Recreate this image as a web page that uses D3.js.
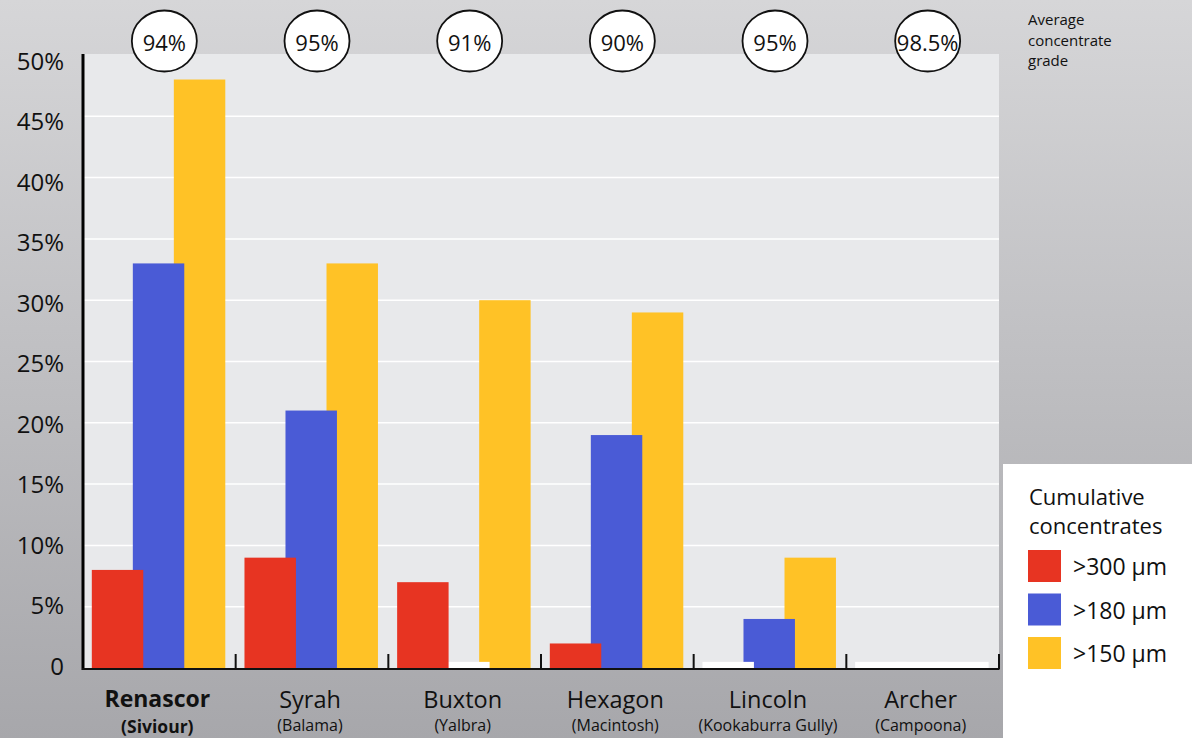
<!DOCTYPE html>
<html>
<head>
<meta charset="utf-8">
<script src="https://cdn.jsdelivr.net/npm/d3@7/dist/d3.min.js"></script>
<style>
  html, body { margin: 0; padding: 0; background: #c0c0c4; }
  svg { display: block; font-family: "Open Sans", "Noto Sans", sans-serif; }
</style>
</head>
<body>
<svg id="chart" width="1192" height="738"></svg>
<script>
// ---- data ----
const categories = ["Renascor", "Syrah", "Buxton", "Hexagon", "Lincoln", "Archer"];
const subLabels = ["(Siviour)", "(Balama)", "(Yalbra)", "(Macintosh)", "(Kookaburra Gully)", "(Campoona)"];
const grades = ["94%", "95%", "91%", "90%", "95%", "98.5%"];
const seriesNames = [">300 µm", ">180 µm", ">150 µm"];
const over300 = [8, 9, 7, 2, 0, 0];
const over180 = [33, 21, 0, 19, 4, 0];
const over150 = [48, 33, 30, 29, 9, 0];
const yTicks = [0, 5, 10, 15, 20, 25, 30, 35, 40, 45, 50];
const colors = ["#e73422", "#4a5bd6", "#ffc226"];

const seriesValues = [over300, over180, over150];

const svg = d3.select("#chart");
const W = 1192, H = 738;

// background gradient
const defs = svg.append("defs");
const grad = defs.append("linearGradient").attr("id", "bg").attr("x1", 0).attr("y1", 0).attr("x2", 0).attr("y2", 1);
grad.append("stop").attr("offset", "0%").attr("stop-color", "#d6d6d8");
grad.append("stop").attr("offset", "100%").attr("stop-color", "#a7a7ab");
svg.append("rect").attr("width", W).attr("height", H).attr("fill", "url(#bg)");

// scales
const x = d3.scaleBand().domain(categories).range([83, 999]).padding(0);
const bw = x.bandwidth();
const xs = d3.scalePoint().domain(seriesNames).range([bw * 0.0577, bw * 0.595]);
const barW = bw * 0.337;
const y = d3.scaleLinear().domain([0, 50]).range([668, 55]);
const yLabel = d3.scaleLinear().domain([0, 50]).range([665, 60]);

// plot area
svg.append("rect").attr("x", 84).attr("y", 54).attr("width", 999 - 84).attr("height", 668 - 54).attr("fill", "#e8e9eb");

// gridlines
svg.append("g").selectAll("line").data(yTicks.filter(d => d > 0 && d < 50)).join("line")
  .attr("x1", 84).attr("x2", 999)
  .attr("y1", d => y(d)).attr("y2", d => y(d))
  .attr("stroke", "#ffffff").attr("stroke-width", 1.5);

// bars: draw in reverse order so red is on top
const barData = [];
categories.forEach((c, ci) => {
  for (let si = seriesNames.length - 1; si >= 0; si--) {
    barData.push({ cat: c, s: seriesNames[si], si: si, v: seriesValues[si][ci] });
  }
});
svg.append("g").selectAll("rect").data(barData).join("rect")
  .attr("x", d => x(d.cat) + xs(d.s))
  .attr("width", barW)
  .attr("y", d => d.v === 0 ? y(0.5) : y(d.v))
  .attr("height", d => d.v === 0 ? y(0) - y(0.5) : y(0) - y(d.v))
  .attr("fill", d => d.v === 0 ? "#ffffff" : colors[d.si]);

// axes lines
svg.append("line").attr("x1", 83).attr("x2", 83).attr("y1", 54).attr("y2", 670)
  .attr("stroke", "#000").attr("stroke-width", 3);
svg.append("line").attr("x1", 82).attr("x2", 999.5).attr("y1", 669).attr("y2", 669)
  .attr("stroke", "#111").attr("stroke-width", 2);

// category boundary ticks
svg.append("g").selectAll("line").data(categories).join("line")
  .attr("x1", d => x(d) + bw).attr("x2", d => x(d) + bw)
  .attr("y1", 654).attr("y2", 669)
  .attr("stroke", "#111").attr("stroke-width", 2);

// y tick labels
svg.append("g").selectAll("text").data(yTicks).join("text")
  .attr("x", 64).attr("y", d => yLabel(d))
  .attr("text-anchor", "end").attr("dominant-baseline", "central")
  .attr("font-size", 24).attr("fill", "#111")
  .text(d => d === 0 ? "0" : d + "%");

// x labels
const xl = svg.append("g");
xl.selectAll("text.main").data(categories).join("text").attr("class", "main")
  .attr("x", d => x(d) + bw / 2 - 2).attr("y", (d, i) => i === 0 ? 707 : 708)
  .attr("text-anchor", "middle").attr("fill", "#111")
  .attr("font-size", (d, i) => i === 0 ? 23 : 23.5)
  .attr("font-weight", (d, i) => i === 0 ? 700 : 400)
  .text(d => d);
xl.selectAll("text.sub").data(categories).join("text").attr("class", "sub")
  .attr("x", d => x(d) + bw / 2 - 2).attr("y", (d, i) => i === 0 ? 732.5 : 731)
  .attr("text-anchor", "middle").attr("fill", "#111")
  .attr("font-size", (d, i) => i === 0 ? 17.5 : 16)
  .attr("font-weight", (d, i) => i === 0 ? 700 : 400)
  .text((d, i) => subLabels[i]);

// grade circles
const gc = svg.append("g").selectAll("g").data(categories).join("g")
  .attr("transform", d => `translate(${x(d) + bw / 2 + 5},41)`);
gc.append("ellipse").attr("rx", 32.5).attr("ry", 30.5)
  .attr("fill", "#fff").attr("stroke", "#111").attr("stroke-width", 1.8);
gc.append("text").attr("text-anchor", "middle").attr("dominant-baseline", "central")
  .attr("y", 1).attr("font-size", 22).attr("fill", "#111")
  .text((d, i) => grades[i]);

// average concentrate grade note
const note = svg.append("text").attr("x", 1028).attr("y", 25).attr("font-size", 15).attr("fill", "#111");
["Average", "concentrate", "grade"].forEach((t, i) => {
  note.append("tspan").attr("x", 1028).attr("dy", i === 0 ? 0 : 20.5).text(t);
});

// legend
const lg = svg.append("g");
lg.append("rect").attr("x", 1003).attr("y", 464).attr("width", W - 1003).attr("height", H - 464).attr("fill", "#fff");
const lt = lg.append("text").attr("x", 1029).attr("y", 505).attr("font-size", 22).attr("fill", "#111");
lt.append("tspan").attr("x", 1029).text("Cumulative");
lt.append("tspan").attr("x", 1029).attr("dy", 29).text("concentrates");
const li = lg.selectAll("g.item").data(seriesNames).join("g").attr("class", "item")
  .attr("transform", (d, i) => `translate(1028,${550 + i * 43.5})`);
li.append("rect").attr("width", 33).attr("height", 32).attr("fill", (d, i) => colors[i]);
li.append("text").attr("x", 45).attr("y", 16).attr("dominant-baseline", "central")
  .attr("font-size", 23).attr("fill", "#111").text(d => d);
</script>
</body>
</html>
